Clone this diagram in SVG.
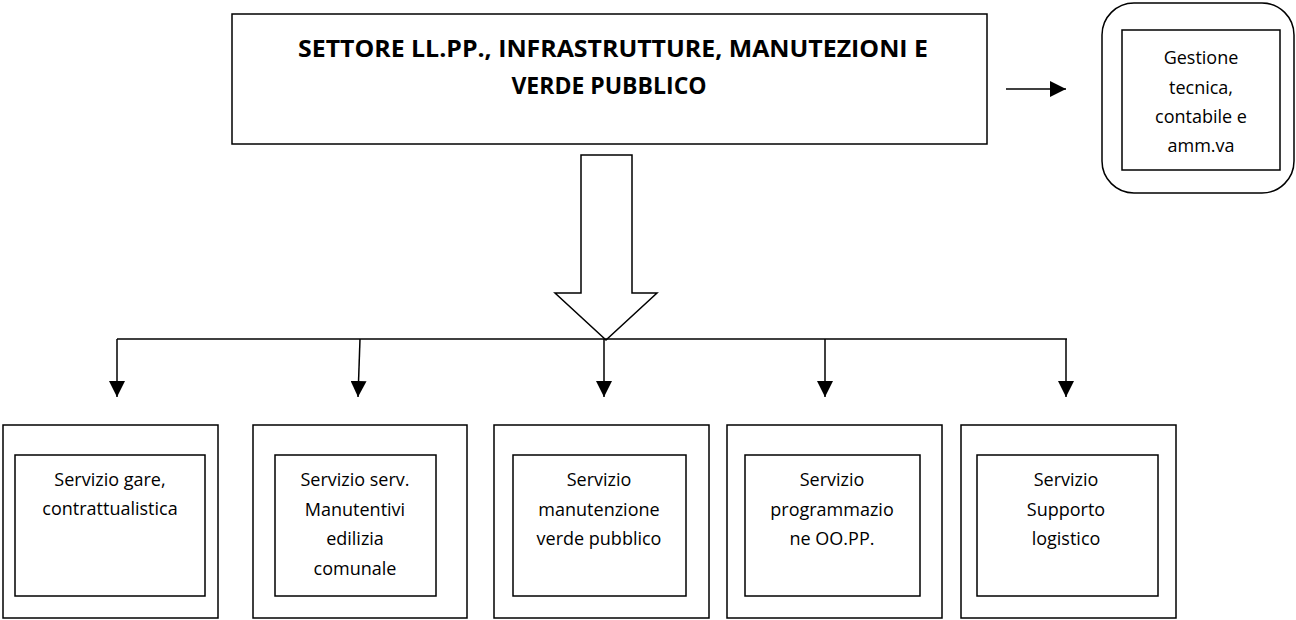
<svg xmlns="http://www.w3.org/2000/svg" width="1296" height="620" viewBox="0 0 1296 620">
<defs>
<style>
.box{fill:#fff;stroke:#000;stroke-width:1.5}
.ln{fill:none;stroke:#000;stroke-width:1.5}
.t{font-family:"Open Sans","Liberation Sans",sans-serif;font-size:18px;fill:#000;text-anchor:middle}
.tb{font-family:"Open Sans","Liberation Sans",sans-serif;font-size:23px;font-weight:bold;fill:#000;text-anchor:middle}
</style>
<marker id="ahd" viewBox="0 0 16 16" refX="16" refY="8" markerWidth="16" markerHeight="16" markerUnits="userSpaceOnUse" orient="auto">
<path d="M0,0 L16,8 L0,16 Z" fill="#000"/>
</marker>
</defs>
<rect width="1296" height="620" fill="#fff"/>

<g id="settore">
<rect class="box" x="232" y="14" width="755" height="130"/>
<text class="tb" x="613" y="57" textLength="630" lengthAdjust="spacingAndGlyphs">SETTORE LL.PP., INFRASTRUTTURE, MANUTEZIONI E</text>
<text class="tb" x="609" y="94">VERDE PUBBLICO</text>
</g>

<g id="gestione">
<rect class="box" x="1102" y="3" width="192" height="190" rx="32" ry="32"/>
<rect class="box" x="1122" y="30" width="158" height="140"/>
<text class="t" x="1201" y="64">Gestione</text>
<text class="t" x="1201" y="94">tecnica,</text>
<text class="t" x="1201" y="123">contabile e</text>
<text class="t" x="1201" y="152">amm.va</text>
</g>

<g id="connectors">
<line class="ln" x1="1006" y1="89" x2="1066" y2="89" marker-end="url(#ahd)"/>
<polygon class="box" points="581,155 632,155 632,293 657,293 606,340 555,293 581,293"/>
<line class="ln" x1="117" y1="339" x2="1067" y2="339"/>
<line class="ln" x1="117" y1="339" x2="117" y2="397" marker-end="url(#ahd)"/>
<line class="ln" x1="360" y1="339" x2="358" y2="397" marker-end="url(#ahd)"/>
<line class="ln" x1="604" y1="339" x2="604" y2="397" marker-end="url(#ahd)"/>
<line class="ln" x1="825" y1="339" x2="825" y2="397" marker-end="url(#ahd)"/>
<line class="ln" x1="1066" y1="339" x2="1066" y2="397" marker-end="url(#ahd)"/>
</g>

<g id="gare">
<rect class="box" x="3" y="425" width="215" height="193"/>
<rect class="box" x="15" y="455" width="190" height="141"/>
<text class="t" x="110" y="486">Servizio gare,</text>
<text class="t" x="110" y="515">contrattualistica</text>
</g>

<g id="manutentivi">
<rect class="box" x="253" y="425" width="214" height="193"/>
<rect class="box" x="275" y="455" width="161" height="141"/>
<text class="t" x="355" y="486">Servizio serv.</text>
<text class="t" x="355" y="516">Manutentivi</text>
<text class="t" x="355" y="545">edilizia</text>
<text class="t" x="355" y="575">comunale</text>
</g>

<g id="verde">
<rect class="box" x="494" y="425" width="215" height="193"/>
<rect class="box" x="513" y="455" width="173" height="141"/>
<text class="t" x="599" y="486">Servizio</text>
<text class="t" x="599" y="516">manutenzione</text>
<text class="t" x="599" y="545">verde pubblico</text>
</g>

<g id="programmazione">
<rect class="box" x="727" y="425" width="215" height="193"/>
<rect class="box" x="745" y="455" width="175" height="141"/>
<text class="t" x="832" y="486">Servizio</text>
<text class="t" x="832" y="516">programmazio</text>
<text class="t" x="832" y="545">ne OO.PP.</text>
</g>

<g id="logistico">
<rect class="box" x="961" y="425" width="215" height="193"/>
<rect class="box" x="977" y="455" width="181" height="141"/>
<text class="t" x="1066" y="486">Servizio</text>
<text class="t" x="1066" y="516">Supporto</text>
<text class="t" x="1066" y="545">logistico</text>
</g>
</svg>
